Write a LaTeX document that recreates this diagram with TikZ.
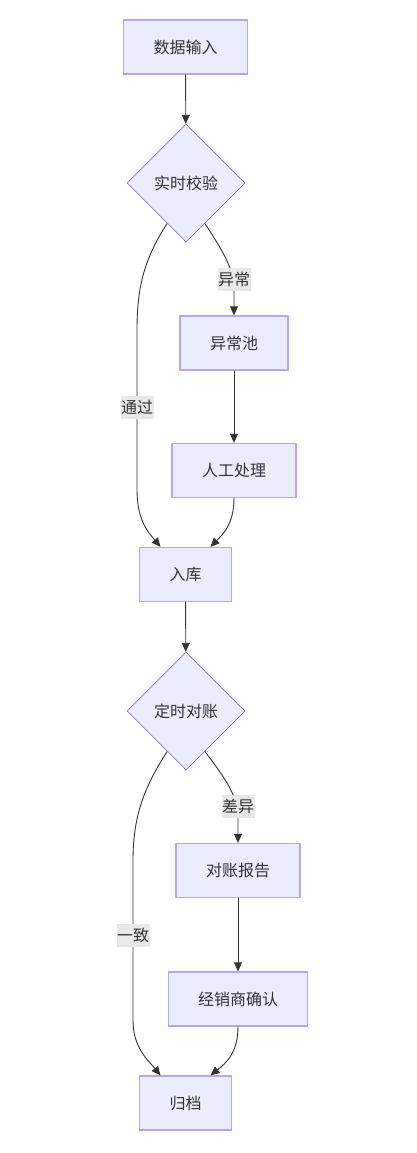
\documentclass[tikz,border=0pt]{standalone}
\usepackage{fontspec}
\setmainfont{Noto Sans CJK SC}
\usetikzlibrary{shapes.geometric,arrows.meta}
\definecolor{nodefill}{HTML}{ECECFF}
\definecolor{nodeline}{HTML}{9370DB}
\definecolor{rectline}{HTML}{B8A6E8}
\definecolor{edgecol}{HTML}{333333}
\definecolor{lblfill}{HTML}{E8E8E8}
\tikzset{
  box/.style={draw=rectline, line width=1.3pt, fill=nodefill, text=edgecol, font=\fontsize{16}{19}\selectfont, minimum height=54pt, inner sep=0pt},
  dia/.style={diamond, draw=nodeline, line width=0.8pt, fill=nodefill, text=edgecol, font=\fontsize{16}{19}\selectfont, minimum width=118pt, minimum height=118pt, inner sep=0pt, aspect=1},
  edge/.style={draw=edgecol, line width=0.9pt, -{Triangle[length=9pt,width=8pt]}},
  lbl/.style={fill=lblfill, text=edgecol, font=\fontsize{16}{19}\selectfont, inner sep=0.5pt, minimum height=23pt, minimum width=32pt}
}
\begin{document}
\begin{tikzpicture}[x=1pt,y=-1pt]
\useasboundingbox (0,0) rectangle (416,1153);
\fill[white] (0,0) rectangle (416,1153);
% nodes
\node[box, minimum width=124pt] (a) at (185.5,47) {数据输入};
\node[dia] (b) at (186,183) {实时校验};
\node[box, minimum width=108pt] (c) at (234,343) {异常池};
\node[box, minimum width=124pt] (d) at (234,470.5) {人工处理};
\node[box, minimum width=92pt] (e) at (185.5,574.5) {入库};
\node[dia] (f) at (186,711) {定时对账};
\node[box, minimum width=124pt] (g) at (238,870.5) {对账报告};
\node[box, minimum width=139pt] (h) at (238,999) {经销商确认};
\node[box, minimum width=92pt] (i) at (185.5,1103) {归档};
% edges
\draw[edge] (a) -- (b);
\draw[edge] (b.245) .. controls (145,258) and (137,285) .. (137,330) -- (137,490) .. controls (137,520) and (148,532) .. ([xshift=-25pt]e.north);
\draw[edge] (b.295) .. controls (222,250) and (234,268) .. (234,290) -- (c.north);
\draw[edge] (c) -- (d);
\draw[edge] (d.south) .. controls (234,525) and (222,535) .. ([xshift=25pt]e.north);
\draw[edge] (e) -- (f);
\draw[edge] (f.245) .. controls (145,786) and (133,815) .. (133,860) -- (133,1020) .. controls (133,1048) and (148,1060) .. ([xshift=-25pt]i.north);
\draw[edge] (f.295) .. controls (225,778) and (238,796) .. (238,818) -- (g.north);
\draw[edge] (g) -- (h);
\draw[edge] (h.south) .. controls (238,1053) and (226,1063) .. ([xshift=25pt]i.north);
% labels
\node[lbl] (l1) at (137,407) {通过};
\node[lbl] (l2) at (234,279) {异常};
\node[lbl] (l3) at (238,806) {差异};
\node[lbl] (l4) at (133,935) {一致};
\end{tikzpicture}
\end{document}
